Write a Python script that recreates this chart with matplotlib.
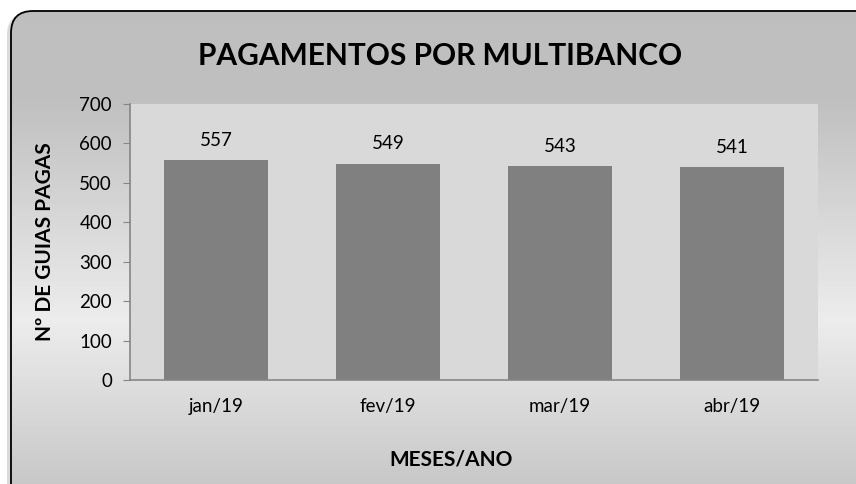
import numpy as np
import matplotlib
matplotlib.use("Agg")
import matplotlib.pyplot as plt
from matplotlib.patches import FancyBboxPatch

categories = ["jan/19", "fev/19", "mar/19", "abr/19"]
values = [557, 549, 543, 541]
y_ticks = [0, 100, 200, 300, 400, 500, 600, 700]
title = "PAGAMENTOS POR MULTIBANCO"
ylabel = "Nº DE GUIAS PAGAS"
xlabel = "MESES/ANO"

plt.rcParams['font.family'] = ['Lato', 'DejaVu Sans']

W, H = 856, 484
fig = plt.figure(figsize=(W / 100, H / 100), dpi=100)
fig.patch.set_facecolor("white")

# background axes with rounded gradient box
bg = fig.add_axes([0, 0, 1, 1])
bg.set_xlim(0, W)
bg.set_ylim(H, 0)
bg.axis("off")
ys = np.arange(H)
vals = np.interp(ys, [0, 100, 320, 484], [0.745, 0.75, 0.925, 0.78])
grad = np.repeat(vals[:, None], 16, axis=1)
shadow = FancyBboxPatch((7, 13), 880, 500, boxstyle="round,pad=0,rounding_size=22",
                        facecolor="#dadada", edgecolor="none", zorder=0)
bg.add_patch(shadow)
img = bg.imshow(grad, cmap="gray", vmin=0, vmax=1, extent=[0, W, H, 0],
                aspect="auto", zorder=1, interpolation="nearest")
clip = FancyBboxPatch((11, 11), 870, 500, boxstyle="round,pad=0,rounding_size=22",
                      facecolor="none", edgecolor="none", transform=bg.transData)
bg.add_patch(clip)
img.set_clip_path(clip)
box = FancyBboxPatch((11, 11), 870, 500, boxstyle="round,pad=0,rounding_size=22",
                     facecolor="none", edgecolor="black", linewidth=1.3, zorder=3)
bg.add_patch(box)

# main axes
x0, x1 = 130, 818
yt, yb = 104, 380
ax = fig.add_axes([x0 / W, 1 - yb / H, (x1 - x0) / W, (yb - yt) / H])
ax.set_facecolor("#d9d9d9")
x = np.arange(len(categories))
ax.bar(x, values, width=0.6, color="#808080", zorder=2)
ax.set_xlim(-0.5, len(categories) - 0.5)
ax.set_ylim(0, 700)
ax.set_yticks(y_ticks)
ax.set_xticks(x)
ax.set_xticklabels(categories)
ax.tick_params(axis="y", length=5, color="#868686", labelsize=13.5, pad=8)
ax.tick_params(axis="x", length=0, labelsize=13.5, pad=13)
for s in ["top", "right"]:
    ax.spines[s].set_visible(False)
for s in ["left", "bottom"]:
    ax.spines[s].set_color("#868686")
    ax.spines[s].set_linewidth(1.2)
for xi, v in zip(x, values):
    ax.annotate(str(v), (xi, v), xytext=(0, 8), textcoords="offset points",
                ha="center", va="bottom", fontsize=13.5)

fig.text(440 / W, 1 - 56 / H, title, ha="center", va="center",
         fontsize=21.5, fontweight="bold")
fig.text(45 / W, 1 - 242 / H, ylabel, ha="center", va="center", rotation=90,
         fontsize=15, fontweight="bold")
fig.text(451 / W, 1 - 459 / H, xlabel, ha="center", va="center",
         fontsize=15, fontweight="bold")

fig.savefig("out.png", dpi=100)
